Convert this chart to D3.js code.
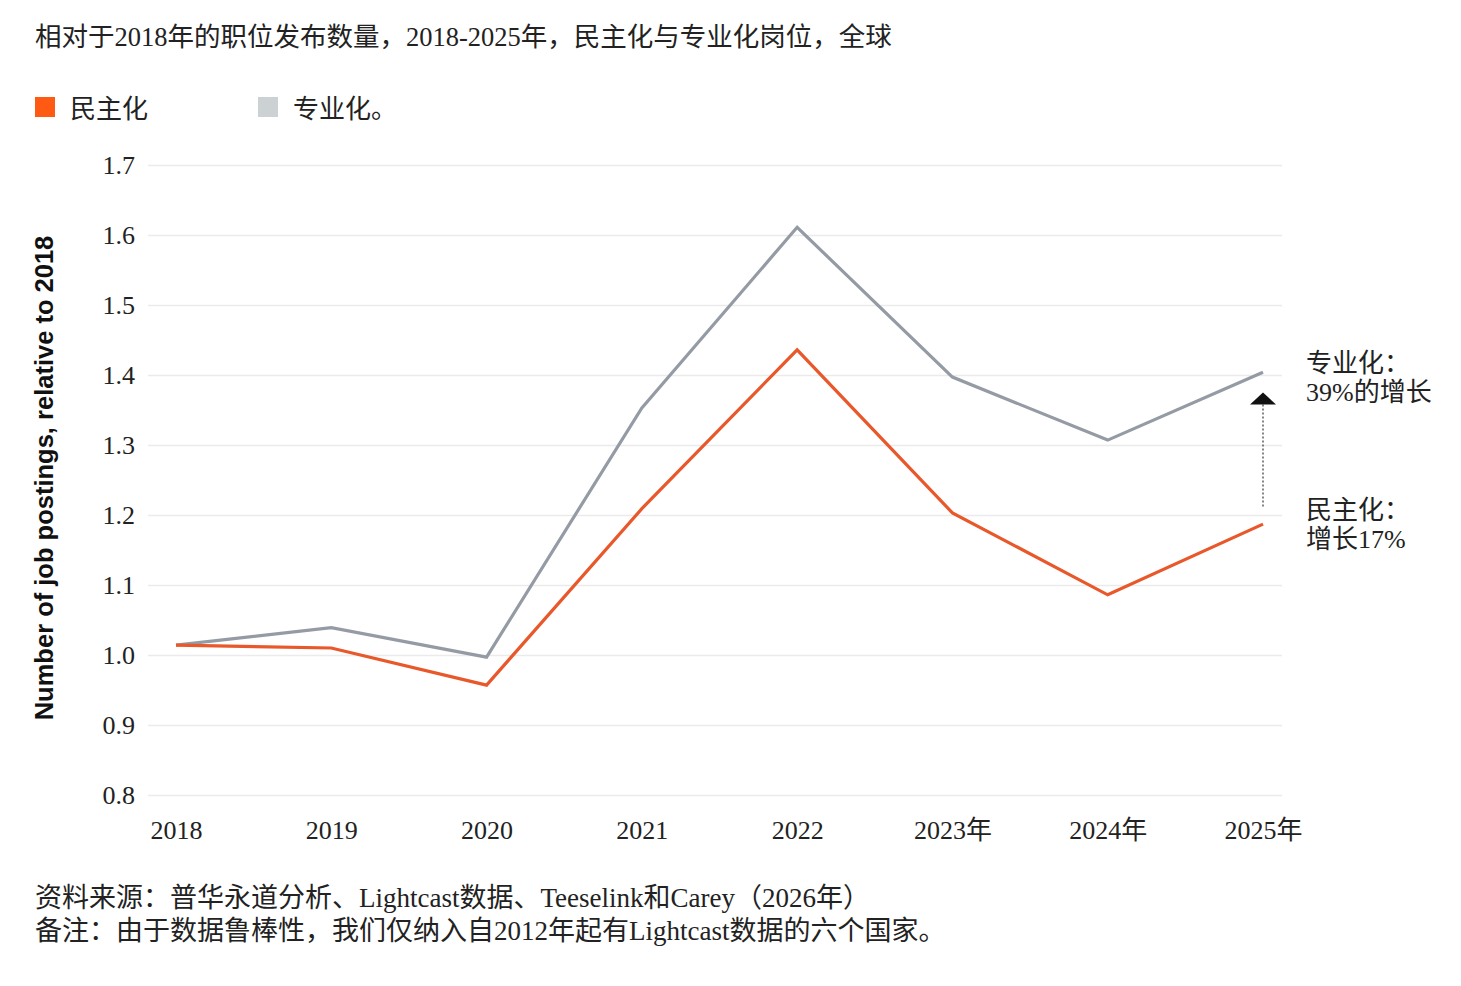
<!DOCTYPE html>
<html>
<head>
<meta charset="utf-8">
<script src="https://cdn.jsdelivr.net/npm/d3@7"></script>
<style>
  body { margin: 0; background: #fff; }
  svg text { font-family: 'Liberation Serif', 'Noto Sans CJK SC', serif; fill: #222; }
</style>
</head>
<body>
<svg id="chart"></svg>
<script>
const years = ['2018', '2019', '2020', '2021', '2022', '2023年', '2024年', '2025年']
const democratized = [1.014, 1.01, 0.957, 1.209, 1.436, 1.203, 1.086, 1.187]
const specialized = [1.014, 1.039, 0.997, 1.353, 1.611, 1.397, 1.307, 1.404]
const yTicks = [0.8, 0.9, 1.0, 1.1, 1.2, 1.3, 1.4, 1.5, 1.6, 1.7]

const W = 1461
const H = 986
const orange = '#e8582b'
const grey = '#949ba4'

const svg = d3.select('#chart').attr('width', W).attr('height', H)

// scales
const xScale = d3.scalePoint().domain(years).range([176, 1263])
const yScale = d3.scaleLinear().domain([0.8, 1.7]).range([795, 165])

// title
svg.append('text')
  .attr('x', 35).attr('y', 46)
  .attr('font-size', 26.5)
  .text('相对于2018年的职位发布数量，2018-2025年，民主化与专业化岗位，全球')

// legend
const legend = [
  { label: '民主化', color: '#ff5a14', x: 35 },
  { label: '专业化。', color: '#ccd1d4', x: 258 }
]
legend.forEach(l => {
  svg.append('rect').attr('x', l.x).attr('y', 97).attr('width', 20).attr('height', 20).attr('fill', l.color)
  svg.append('text').attr('x', l.x + 35).attr('y', 118).attr('font-size', 26).text(l.label)
})

// grid + y axis
const yAxis = svg.append('g')
  .attr('transform', 'translate(148,0)')
  .call(d3.axisLeft(yScale).tickValues(yTicks).tickFormat(d3.format('.1f')).tickSize(-(1282 - 148)).tickPadding(12))
yAxis.select('.domain').remove()
yAxis.selectAll('.tick line').attr('stroke', '#ebebeb').attr('stroke-width', 1.5)
yAxis.selectAll('.tick text').attr('font-size', 26).attr('fill', '#222').attr('x', -13)

// x axis
const xAxis = svg.append('g')
  .attr('transform', 'translate(0,795)')
  .call(d3.axisBottom(xScale).tickSize(0).tickPadding(26))
xAxis.select('.domain').remove()
xAxis.selectAll('.tick text').attr('font-size', 26).attr('fill', '#222')

// y label
svg.append('text')
  .attr('transform', 'translate(53,478) rotate(-90)')
  .attr('text-anchor', 'middle')
  .attr('font-size', 25.5)
  .attr('font-weight', 'bold')
  .style('font-family', "'Liberation Sans', Arial, sans-serif")
  .style('fill', '#111')
  .text('Number of job postings, relative to 2018')

// lines
const line = d3.line().x((d, i) => xScale(years[i])).y(d => yScale(d))
svg.append('path').datum(specialized)
  .attr('d', line).attr('fill', 'none').attr('stroke', grey).attr('stroke-width', 3.2).attr('stroke-linejoin', 'miter')
svg.append('path').datum(democratized)
  .attr('d', line).attr('fill', 'none').attr('stroke', orange).attr('stroke-width', 3.2).attr('stroke-linejoin', 'miter')

// annotation arrow
const ax = xScale('2025年')
const arrowTop = yScale(1.375)
svg.append('line')
  .attr('x1', ax).attr('x2', ax)
  .attr('y1', arrowTop + 12).attr('y2', yScale(1.21))
  .attr('stroke', '#444').attr('stroke-width', 1.3).attr('stroke-dasharray', '2,2')
svg.append('path')
  .attr('d', `M${ax - 13},${arrowTop + 12}L${ax},${arrowTop}L${ax + 13},${arrowTop + 12}Z`)
  .attr('fill', '#111')

const notes = [
  { lines: ['专业化：', '39%的增长'], y: 372 },
  { lines: ['民主化：', '增长17%'], y: 519 }
]
notes.forEach(n => {
  n.lines.forEach((t, i) => {
    svg.append('text').attr('x', 1306).attr('y', n.y + i * 29).attr('font-size', 26).text(t)
  })
})

// source
svg.append('text').attr('x', 35).attr('y', 907).attr('font-size', 27)
  .text('资料来源：普华永道分析、Lightcast数据、Teeselink和Carey（2026年）')
svg.append('text').attr('x', 35).attr('y', 940).attr('font-size', 27)
  .text('备注：由于数据鲁棒性，我们仅纳入自2012年起有Lightcast数据的六个国家。')
</script>
</body>
</html>
